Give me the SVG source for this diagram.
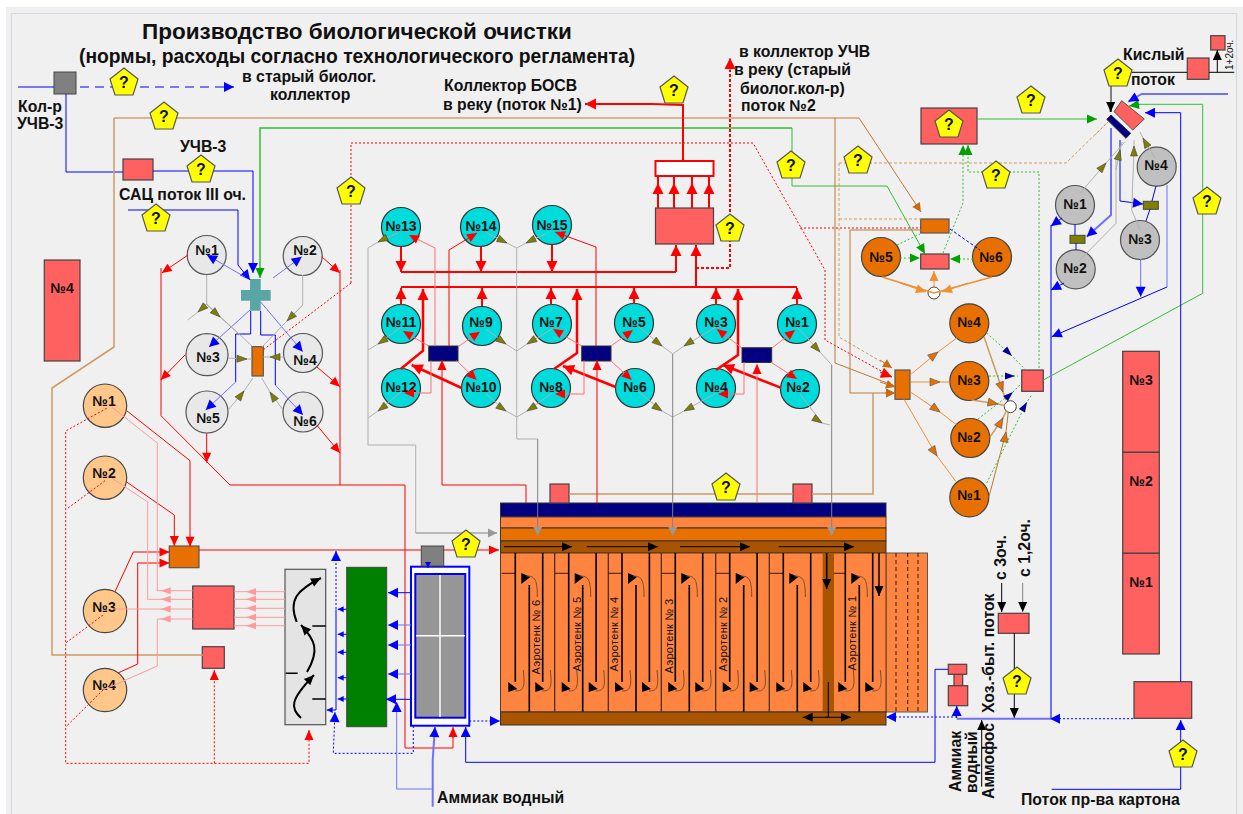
<svg xmlns="http://www.w3.org/2000/svg" width="1243" height="814" viewBox="0 0 1243 814">
<style>
text{font-family:"Liberation Sans",Arial,sans-serif;fill:#111}
.t{font-weight:bold;font-size:15.800px}
.n{font-weight:bold;font-size:14px;text-anchor:middle}
.q{font-weight:bold;font-size:16px;text-anchor:middle}
.tk{font-size:11px;text-anchor:middle;letter-spacing:.3px}
.p{fill:#ff6060;stroke:#444;stroke-width:1.2}
.or{fill:#e87000;stroke:#555;stroke-width:1.2}
.nv{fill:#000080;stroke:#333}
.ol{fill:#808000;stroke:#444}
.cy{fill:#00dcdc;stroke:#333;stroke-width:1.2}
.lg{fill:#e8e8e8;stroke:#555;stroke-width:1.2}
.gc{fill:#c0c0c0;stroke:#555;stroke-width:1.2}
.lo{fill:#ffc78a;stroke:#444;stroke-width:1.2}
.oc{fill:#e87000;stroke:#444;stroke-width:1.2}
.wc{fill:#fff;stroke:#444;stroke-width:1}
.pn{fill:#ffff00;stroke:#555;stroke-width:1.2}
.c *{fill:none}
.red{stroke:#f00}.pk{stroke:#ff9a9a}.lr{stroke:#ff7070}
.blu{stroke:#00f}.lb{stroke:#7070ff}
.grn{stroke:#30c030}.tan{stroke:#d09a62}.brn{stroke:#c07830}
.gry{stroke:#b0b0b0}.dg{stroke:#808080}.blk{stroke:#000}.org{stroke:#f09030}
.w15{stroke-width:1.500}.w2{stroke-width:2}.w3{stroke-width:2.500}
.dot{stroke-dasharray:2 2}.das{stroke-dasharray:9 6}.dsh{stroke-dasharray:3 2}
.er{marker-end:url(#r)}.es{marker-end:url(#rs)}.ep{marker-end:url(#ps)}
.eb{marker-end:url(#b)}.ebs{marker-end:url(#bs)}.eg{marker-end:url(#g)}.eo{marker-end:url(#o)}.ebr{marker-end:url(#br)}
.ek{marker-end:url(#k)}.ey{marker-end:url(#gy)}
.mo{marker-mid:url(#olv)}.mn{marker-mid:url(#nmk)}.mr{marker-mid:url(#r)}.mbr{marker-mid:url(#omk)}
</style>
<defs>
<marker id="r" markerUnits="userSpaceOnUse" orient="auto" overflow="visible" markerWidth="1" markerHeight="1"><path d="M-11,-5.500L0,0L-11,5.500z" fill="#f00"/></marker>
<marker id="rs" markerUnits="userSpaceOnUse" orient="auto" overflow="visible" markerWidth="1" markerHeight="1"><path d="M-10,-4.500L0,0L-10,4.500z" fill="#f00"/></marker>
<marker id="ps" markerUnits="userSpaceOnUse" orient="auto" overflow="visible" markerWidth="1" markerHeight="1"><path d="M-10,-3.500L0,0L-10,3.500z" fill="#ff9a9a"/></marker>
<marker id="b" markerUnits="userSpaceOnUse" orient="auto" overflow="visible" markerWidth="1" markerHeight="1"><path d="M-10,-5L0,0L-10,5z" fill="#00f"/></marker>
<marker id="bs" markerUnits="userSpaceOnUse" orient="auto" overflow="visible" markerWidth="1" markerHeight="1"><path d="M-6,-3L0,0L-6,3z" fill="#00f"/></marker>
<marker id="g" markerUnits="userSpaceOnUse" orient="auto" overflow="visible" markerWidth="1" markerHeight="1"><path d="M-10,-4.500L0,0L-10,4.500z" fill="#00a000"/></marker>
<marker id="o" markerUnits="userSpaceOnUse" orient="auto" overflow="visible" markerWidth="1" markerHeight="1"><path d="M-10,-4.500L0,0L-10,4.500z" fill="#f09030"/></marker>
<marker id="br" markerUnits="userSpaceOnUse" orient="auto" overflow="visible" markerWidth="1" markerHeight="1"><path d="M-9,-4.500L0,0L-9,4.500z" fill="#c86a10"/></marker>
<marker id="k" markerUnits="userSpaceOnUse" orient="auto" overflow="visible" markerWidth="1" markerHeight="1"><path d="M-10,-4.500L0,0L-10,4.500z" fill="#000"/></marker>
<marker id="gy" markerUnits="userSpaceOnUse" orient="auto" overflow="visible" markerWidth="1" markerHeight="1"><path d="M-9,-4.500L0,0L-9,4.500z" fill="#999"/></marker>
<marker id="olv" markerUnits="userSpaceOnUse" orient="auto" overflow="visible" markerWidth="1" markerHeight="1"><path d="M-10,-3.500L0,0L-10,3.500z" fill="#808000" stroke="#444" stroke-width=".6"/></marker>
<marker id="omk" markerUnits="userSpaceOnUse" orient="auto" overflow="visible" markerWidth="1" markerHeight="1"><path d="M-10,-4L0,0L-10,4z" fill="#e87000" stroke="#555" stroke-width=".6"/></marker>
<marker id="nmk" markerUnits="userSpaceOnUse" orient="auto" overflow="visible" markerWidth="1" markerHeight="1"><path d="M-10,-3.500L0,0L-10,3.500z" fill="#000090"/></marker>
<polygon id="pent" class="pn" points="0,-14 14,-3 9,13 -9,13 -14,-3"/>
<g id="tkn">
<path d="M0,553V682M14,585V712M27.400,553V682" stroke="#000" stroke-width="1.600" fill="none"/>
<path d="M-13.700,573.300H0" stroke="#000" stroke-width=".8"/>
<path d="M-7,682V692L2,689zM20,682V692L29,689zM6,573V584L15,577z" fill="#000"/>
<path d="M8,670C10,688 8,691 0,691M35,670C37,688 35,691 27,691M22,597C22,580 20,576 11,576" fill="none" stroke="#74502c"/>
</g>
</defs>
<rect width="1243" height="814" fill="#fff"/>
<rect x="6" y="7" width="1237" height="807" fill="#f0f0f0"/>
<path d="M11.500,814V13.500H1236.500V814" fill="none" stroke="#d8d8e2" stroke-width="1.200"/>

<g id="aerotank">
<rect x="500.500" y="503" width="385.500" height="14" fill="#000080" stroke="#333"/>
<rect x="500.500" y="517" width="385.500" height="11" fill="#ff8440" stroke="#5a3a20"/>
<rect x="500.500" y="528" width="385.500" height="13" fill="#e87000" stroke="#333"/>
<rect x="500.500" y="541" width="385.500" height="12" fill="#a85400" stroke="#333"/>
<rect x="886" y="553" width="41.500" height="159" fill="#ff8440" stroke="#5a5a50"/>
<path d="M896,553V712M907.700,553V712M918,553V712" stroke="#222" stroke-dasharray="4 3"/>
<rect x="500.500" y="553" width="385.500" height="159" fill="#ff8440" stroke="#5a3a20"/>
<use href="#tkn" x="515.300"/><use href="#tkn" x="568.700"/><use href="#tkn" x="622"/><use href="#tkn" x="675.300"/><use href="#tkn" x="729.700"/><use href="#tkn" x="783.300"/><use href="#tkn" x="845.300"/>
<path d="M554.700,553V712M608.300,553V712M661.300,553V712M715.700,553V712M769.300,553V712" stroke="#3a2a1a" stroke-width="1.200"/>
<rect x="822.700" y="553" width="11.300" height="159" fill="#a85400"/>
<rect x="500.500" y="712" width="385.500" height="13" fill="#a85400" stroke="#333"/>
<g class="c">
<path class="blk ek" d="M504,546.700H572"/><path class="blk ek" d="M586.700,546.700H658"/><path class="blk ek" d="M680,546.700H750"/><path class="blk ek" d="M778.700,546.700H854"/>
<path class="blk w15 ek" d="M826.700,553V589"/><path class="blk w15 ek" d="M879,553V596"/>
<path class="blk" d="M828.300,682V717"/>
<path class="blk ek" d="M825,717.300H851"/><path class="blk ek" d="M828,717.300H802.700"/>
</g>
<text class="tk" transform="translate(540,637) rotate(-90)">Аэротенк № 6</text>
<text class="tk" transform="translate(581,634) rotate(-90)">Аэротенк № 5</text>
<text class="tk" transform="translate(618,634) rotate(-90)">Аэротенк № 4</text>
<text class="tk" transform="translate(673,636) rotate(-90)">Аэротенк № 3</text>
<text class="tk" transform="translate(727,634) rotate(-90)">Аэротенк № 2</text>
<text class="tk" transform="translate(856,633) rotate(-90)">Аэротенк № 1</text>
</g>

<g id="cross"><path d="M250,279h10.700v11h10v10.700h-10v10h-10.700v-10h-9v-10.700h9z" fill="#5aa5a5"/></g>
<g id="tank4"><rect class="p" x="44.300" y="260" width="35.700" height="101"/><text class="n" x="62" y="293">№4</text></g>
<g id="kolr"><rect x="54" y="72" width="22" height="22" fill="#808080" stroke="#444"/></g>
<g id="box-uchv"><rect class="p" x="123" y="159" width="30" height="21"/></g>
<g id="sed-sq"><rect class="or" x="252" y="346.700" width="11.300" height="29.300"/></g>
<g id="lg1"><circle class="lg" cx="206.700" cy="255" r="19.500"/><text class="n" x="207" y="255">№1</text></g>
<g id="lg2"><circle class="lg" cx="302.700" cy="256" r="19.500"/><text class="n" x="305" y="255">№2</text></g>
<g id="lg3"><circle class="lg" cx="207" cy="354.700" r="21"/><text class="n" x="208" y="362">№3</text></g>
<g id="lg4"><circle class="lg" cx="303" cy="353" r="19.500"/><text class="n" x="305" y="365">№4</text></g>
<g id="lg5"><circle class="lg" cx="207" cy="412" r="21"/><text class="n" x="208" y="423">№5</text></g>
<g id="lg6"><circle class="lg" cx="303" cy="412" r="20"/><text class="n" x="305" y="426">№6</text></g>

<g id="lo1"><circle class="lo" cx="105" cy="405.700" r="21.700"/><text class="n" x="104" y="406">№1</text></g>
<g id="lo2"><circle class="lo" cx="105" cy="477.700" r="21.700"/><text class="n" x="104" y="478">№2</text></g>
<g id="lo3"><circle class="lo" cx="105" cy="611" r="21.700"/><text class="n" x="104" y="612">№3</text></g>
<g id="lo4"><circle class="lo" cx="105" cy="690" r="21.700"/><text class="n" x="104" y="690">№4</text></g>
<g id="mix"><rect class="or" x="169.300" y="546" width="29.700" height="21.700"/></g>
<g id="bigp"><rect class="p" x="192.700" y="586" width="41.300" height="43"/></g>
<g id="smallp"><rect class="p" x="202.300" y="646.700" width="22" height="21.600"/></g>
<g id="grate"><rect x="285" y="569.300" width="40.700" height="155.400" fill="#e4e4e4" stroke="#555" stroke-width="1.200"/>
<path d="M312.300,626H325.700M285.700,673.300H297.700M312.300,699H325.700" stroke="#000" stroke-width="1.500"/></g>
<g id="green"><rect x="346.700" y="567.300" width="40" height="159.400" fill="#008000" stroke="#444"/></g>
<g id="filter"><rect x="411" y="566.700" width="58.300" height="159" fill="#fff" stroke="#00f" stroke-width="2"/>
<rect x="415.300" y="574" width="50" height="143.700" fill="#969696" stroke="#00f" stroke-width="2"/>
<path d="M440,575V717M416,635.700H465" stroke="#fff" stroke-width="1.500"/></g>
<g id="grayb"><rect x="421.300" y="546" width="22.400" height="20" fill="#808080" stroke="#444"/></g>

<g id="c13"><circle class="cy" cx="401" cy="227" r="19.500"/><text class="n" x="401" y="231">№13</text></g>
<g id="c14"><circle class="cy" cx="480" cy="227" r="19.500"/><text class="n" x="481" y="231">№14</text></g>
<g id="c15"><circle class="cy" cx="552" cy="225" r="19.500"/><text class="n" x="552" y="230">№15</text></g>
<g id="c11"><circle class="cy" cx="401" cy="324" r="19.500"/><text class="n" x="401" y="327">№11</text></g>
<g id="c9"><circle class="cy" cx="482" cy="326" r="19.500"/><text class="n" x="481" y="327">№9</text></g>
<g id="c7"><circle class="cy" cx="552" cy="324" r="19.500"/><text class="n" x="551" y="327">№7</text></g>
<g id="c5"><circle class="cy" cx="634" cy="323" r="19.500"/><text class="n" x="634" y="327">№5</text></g>
<g id="c3"><circle class="cy" cx="716" cy="324" r="19.500"/><text class="n" x="716" y="327">№3</text></g>
<g id="c1"><circle class="cy" cx="797" cy="324" r="19.500"/><text class="n" x="797" y="327">№1</text></g>
<g id="c12"><circle class="cy" cx="401" cy="388" r="19.500"/><text class="n" x="401" y="392">№12</text></g>
<g id="c10"><circle class="cy" cx="481" cy="388" r="19.500"/><text class="n" x="481" y="392">№10</text></g>
<g id="c8"><circle class="cy" cx="551" cy="388" r="19.500"/><text class="n" x="551" y="392">№8</text></g>
<g id="c6"><circle class="cy" cx="635" cy="388" r="19.500"/><text class="n" x="635" y="392">№6</text></g>
<g id="c4"><circle class="cy" cx="716" cy="388" r="19.500"/><text class="n" x="716" y="392">№4</text></g>
<g id="c2"><circle class="cy" cx="800" cy="389" r="19.500"/><text class="n" x="798" y="392">№2</text></g>
<g id="nv1"><rect class="nv" x="428.700" y="346" width="29.300" height="15"/></g>
<g id="nv2"><rect class="nv" x="581.700" y="346" width="29.300" height="15"/></g>
<g id="nv3"><rect class="nv" x="742" y="347.700" width="29.700" height="14.800"/></g>
<g id="bigred"><rect class="p" x="655.500" y="208" width="58" height="36"/></g>
<g id="whitebox"><rect x="655.500" y="161" width="58" height="15" fill="#fff" stroke="#f00" stroke-width="2"/></g>
<g id="tsq1"><rect class="p" x="550" y="484" width="19" height="19"/></g>
<g id="tsq2"><rect class="p" x="793" y="484" width="19" height="19"/></g>

<g id="topbox"><rect class="p" x="921" y="108" width="56" height="36"/></g>
<g id="orb"><rect class="or" x="920.700" y="219" width="28.300" height="14"/></g>
<g id="prb"><rect class="p" x="920.700" y="254" width="28.300" height="15"/></g>
<g id="o5"><circle class="oc" cx="881" cy="257" r="19.500"/><text class="n" x="881" y="262">№5</text></g>
<g id="o6"><circle class="oc" cx="992" cy="257" r="19.500"/><text class="n" x="991" y="262">№6</text></g>
<g id="wc1"><circle class="wc" cx="934" cy="293" r="6"/></g>
<g id="orb2"><rect class="or" x="895" y="370" width="15" height="29.300"/></g>
<g id="o4"><circle class="oc" cx="969.300" cy="323.300" r="19.500"/><text class="n" x="969" y="327">№4</text></g>
<g id="o3"><circle class="oc" cx="969.300" cy="381" r="19.500"/><text class="n" x="969" y="385">№3</text></g>
<g id="o2"><circle class="oc" cx="970.300" cy="438" r="19.500"/><text class="n" x="969" y="442">№2</text></g>
<g id="o1"><circle class="oc" cx="969.300" cy="497.300" r="19.500"/><text class="n" x="969" y="500">№1</text></g>
<g id="wc2"><circle class="wc" cx="1010.300" cy="406.700" r="6"/></g>
<g id="rsq"><rect class="p" x="1021.700" y="370" width="21.600" height="21.300"/></g>
<g id="s3"><rect class="p" x="1122.700" y="351.300" width="36.600" height="101"/><text class="n" x="1141" y="385">№3</text></g>
<g id="s2"><rect class="p" x="1122.700" y="452.300" width="36.600" height="101"/><text class="n" x="1141" y="486">№2</text></g>
<g id="s1"><rect class="p" x="1122.700" y="553.300" width="36.600" height="100.700"/><text class="n" x="1141" y="587">№1</text></g>
<g id="kart"><rect class="p" x="1134" y="681.700" width="57.700" height="36.600"/></g>
<g id="hoz"><rect class="p" x="998.300" y="613.300" width="30.700" height="20"/></g>
<g id="dev"><rect class="p" x="954" y="674" width="8.700" height="12"/><rect class="p" x="948.300" y="664.300" width="18.400" height="10"/><rect class="p" x="948.300" y="685.700" width="19.400" height="20"/></g>
<g id="g1"><circle class="gc" cx="1075" cy="205" r="19.500"/><text class="n" x="1075" y="209">№1</text></g>
<g id="g2"><circle class="gc" cx="1075.700" cy="269.300" r="19.500"/><text class="n" x="1075" y="273">№2</text></g>
<g id="g3"><circle class="gc" cx="1140" cy="240" r="19.500"/><text class="n" x="1140" y="244">№3</text></g>
<g id="g4"><circle class="gc" cx="1156.700" cy="166.700" r="19.500"/><text class="n" x="1156" y="170">№4</text></g>
<g id="ol1"><rect class="ol" x="1070" y="235.300" width="15" height="8"/></g>
<g id="ol2"><rect class="ol" x="1143.300" y="201.300" width="15" height="8"/></g>
<g id="acidbox"><rect class="p" x="1187.300" y="58" width="21.700" height="21.300"/></g>
<g id="acidsm"><rect class="p" x="1210.700" y="35.700" width="14.300" height="14.300"/></g>
<g id="reactor">
<polygon points="1121.700,100.700 1144.300,119 1132.700,130 1114,111.700" fill="#ff6060" stroke="#555"/>
<polygon points="1111,115 1130.700,133.300 1126,138.300 1106.700,119.300" fill="#000080" stroke="#333"/>
</g>

<g id="connectors" class="c">
<path class="blu" d="M18,87H54"/>
<path class="blu das eb" d="M80,87H234"/>
<path class="blu" d="M66,94V172H123"/>
<path class="blu eb" d="M153,171H253V273"/>
<path class="blu eb" d="M128,210H238V265L250,280"/>
<path class="grn w15 eg" d="M792,128H260V278"/>
<path class="grn eg" d="M792,128V186H887L925,254"/>
<path class="tan w15" d="M114,118V347L52,388V655H203"/>
<path class="brn" d="M114,118H859"/>
<path class="brn ebr" d="M859,118L921,212"/>
<path class="red dot" d="M351,283V143H753L825,270V340L892,377"/>
<path class="red dot" d="M351,283L263,350"/>
<path class="red dot" d="M800,228H921"/>
<path class="tan dsh" d="M839,163H1066L1108,122"/>
<path class="tan dsh" d="M839,163V337L892,368"/>
<path class="tan dsh" d="M839,219H921"/>
<path class="brn" d="M835,118V363L895,386"/>
<path class="brn" d="M921,230H850V393"/>
<path class="brn ebr" d="M850,393H895"/>
<path class="tan w15" d="M873,393V494H812"/>
<path class="tan w15" d="M793,494H569"/>

<path class="lb eb" d="M245,277L207,255"/>
<path class="lb eb" d="M273,278L301.700,256.700"/>
<path class="lb eb" d="M250,310L209,347"/>
<path class="lb eb" d="M260.700,302L302.700,351.700"/>
<path class="blu" d="M250.700,311V334H235.700V382"/>
<path class="lb eb" d="M235.700,382L205.700,410"/>
<path class="blu" d="M260.700,311V335H275.300V385"/>
<path class="lb eb" d="M275.300,385L303,415"/>

<path class="gry" d="M206.700,275V304L252,346"/>
<path class="gry mo" d="M206,304L198,312L187.700,320"/>
<path class="gry mo" d="M206,304L220,317L240,335"/>
<path class="gry" d="M302.700,275V305L287,321"/>
<path class="gry mo" d="M302,306L287,321L262,347"/>
<path class="gry mo" d="M228,358L247,359L252,359"/>
<path class="gry mo" d="M284,357L270,357L263.300,357"/>
<path class="gry mo" d="M228,410L244,391L253,378"/>
<path class="gry mo" d="M283,410L270,392L261.700,378"/>

<path class="red es" d="M188,255L161.700,273"/>
<path class="red" d="M161,268V415.700L230,485H405V748H453V736"/>
<path class="red es" d="M453,738V727"/>
<path class="red es" d="M321.700,256.700L340,273"/>
<path class="red" d="M340,270V485"/>
<path class="red es" d="M185,355L160.700,380"/>
<path class="red es" d="M316.700,366.700L340,386.700"/>
<path class="red es" d="M206.700,433V462.700"/>
<path class="red es" d="M316.700,425L340,453"/>

<path class="red es" d="M126.700,410.700L190,460.700V546.700"/>
<path class="red es" d="M126.700,482L174.300,515V546"/>
<path class="red es" d="M115,591.700L133.300,552H169.500"/>
<path class="red es" d="M118,673L137.700,664V563H169.500"/>
<path class="pk" d="M111.700,407L157.300,443V591"/>
<path class="pk" d="M111.700,478L147.700,502V599.300"/>
<path class="pk" d="M103,690L157.300,666V619"/>
<path class="pk ep" d="M192.700,590.700H160.700"/><path class="pk" d="M161,590.700H157.300"/>
<path class="pk ep" d="M192.700,599.300H160.700"/><path class="pk" d="M161,599.300H147.700"/>
<path class="pk ep" d="M192.700,609H160.700"/><path class="pk" d="M161,609H112"/>
<path class="pk ep" d="M192.700,619H160.700"/><path class="pk" d="M161,619H157.300"/>
<path class="pk ep" d="M285,591.700H246"/><path class="pk" d="M246,591.700H234"/>
<path class="pk ep" d="M285,599.300H246"/><path class="pk" d="M246,599.300H234"/>
<path class="pk ep" d="M285,608.300H246"/><path class="pk" d="M246,608.300H234"/>
<path class="pk ep" d="M285,617.300H246"/><path class="pk" d="M246,617.300H234"/>
<path class="pk ep" d="M285,625.700H246"/><path class="pk" d="M246,625.700H234"/>
<path class="red dot" d="M106.700,408.300L65.700,431V763.300H309V738"/>
<path class="red dot" d="M105,480.700L66.700,509"/>
<path class="red dot" d="M103,615L65.700,643"/>
<path class="red dot" d="M103,690L65.700,727"/>
<path class="red dot" d="M214.300,763.300V680"/>
<path class="red es" d="M214.300,680V670"/>
<path class="red es" d="M309,740V730"/>

<path class="red" d="M199,550H421.300"/>
<path class="red es" d="M443.700,550H499"/>
<path class="blu eb" d="M411,592.700H388"/>
<path class="lb eb" d="M411,625H388"/>
<path class="lb eb" d="M411,645H388"/>
<path class="lb eb" d="M411,674H388"/>
<path class="blu eb" d="M411,699.300H386"/>
<path class="blu" d="M336,609.300V710"/>
<path class="blu ebs" d="M346.700,609.300H337.700"/><path class="blu ebs" d="M346.700,634.300H337.700"/><path class="blu ebs" d="M346.700,652.300H337.700"/><path class="blu ebs" d="M346.700,677.700H337.700"/><path class="blu ebs" d="M346.700,699H337.700"/>
<path class="blu ebs" d="M336,710H326.700"/>
<path class="blu dot eb" d="M336,609V551"/>
<path class="blu dot eb" d="M413.300,726V753.300H333.300L335,712"/>
<path class="lb w2 eb" d="M432.700,806.700V760L435,727"/>
<path class="lb eb" d="M432.700,789H396.700V702"/>
<path class="blu eb" d="M935,669.300V762.300H465.700V727"/>
<path class="blu" d="M935,669.300H948"/>
<path class="blu ebs" d="M428,566V568"/>
<path class="blu dot eb" d="M469.300,721H500"/>

<path class="blk w2 ek" d="M296.700,622C288,600 297,590 321,578"/>
<path class="blk w2 ek" d="M307,672C320,650 315,640 301,625"/>
<path class="blk w2 ek" d="M301,718C290,708 290,700 314,675"/>

<path class="red w2" d="M401,272H676"/>
<path class="red w2 er" d="M676,272V245"/>
<path class="red w2" d="M401,287H797"/>
<path class="red w2 er" d="M696,287V245"/>
<path class="red dsh w2" d="M696,268H730V70"/>
<path class="red er" d="M730,70V58"/>
<path class="red w2" d="M683,161V105L652,104"/>
<path class="red w2 er" d="M652,104H585"/>
<path class="red w2 er" d="M401,247V272"/>
<path class="red w2 er" d="M481,247V272"/>
<path class="red w2 er" d="M552,245V272"/>
<path class="red w2 er" d="M401,305V288"/>
<path class="red w2 er" d="M482,306V288"/>
<path class="red w2 er" d="M551,305V288"/>
<path class="red w2 er" d="M634,304V288"/>
<path class="red w2 er" d="M716,305V288"/>
<path class="red w2 er" d="M797,305V288"/>
<path class="red w3 er" d="M400.700,369L423,350.700V289"/>
<path class="red w3 er" d="M554,369L577,353V289"/>
<path class="red w3 er" d="M716,370L738,355V289"/>
<path class="red w3 er" d="M461.700,388L411.700,365"/>
<path class="red w3 er" d="M615.700,387L563,366"/>
<path class="red w3 er" d="M780.700,387.700L723,365"/>
<path class="red w2 mr" d="M658,208V183V176"/>
<path class="red w2 mr" d="M674,208V183V176"/>
<path class="red w2 mr" d="M692,208V183V176"/>
<path class="red w2 mr" d="M709,208V183V176"/>
<path class="lr es" d="M428.700,346L403,331"/><path class="lr es" d="M458,346.700L480,331.700"/><path class="lr es" d="M456.700,360.700L476.700,380"/>
<path class="lr es" d="M431,360.700V393H404"/>
<path class="lr es" d="M581.700,346L553,329"/><path class="lr es" d="M611,346L633,330"/><path class="lr es" d="M610.700,360.700L631.700,380"/>
<path class="lr es" d="M584,360.700V394H555"/>
<path class="lr es" d="M742,348L716.700,329"/><path class="lr es" d="M772,348L795,330"/><path class="lr es" d="M770.700,362L797,379"/>
<path class="lr es" d="M744,362V394H718"/>
<path class="lr es" d="M435,346V248L409,235"/>
<path class="red es" d="M449,346V250L477,233"/>
<path class="red es" d="M596,346V247L555,232"/>
<path class="red es" d="M526,503V485H442V360"/>
<path class="red es" d="M597,503V360"/>
<path class="lr es" d="M757,503V364"/>

<path class="gry mo" d="M398,233L378,242L368,248"/>
<path class="gry" d="M368,248V445H415.700V533"/>
<path class="dg ey" d="M415.700,533H497"/>
<path class="gry mo" d="M487,233L507,243L516.700,248"/>
<path class="gry mo" d="M545,234L526,243L516.700,248"/>
<path class="gry mo" d="M401,327L378,344L368,350"/>
<path class="gry mo" d="M401,392L378,411L368,418"/>
<path class="gry mo" d="M486,329L506,344L516.700,351"/>
<path class="gry mo" d="M552,329L527,344L516.700,351"/>
<path class="gry mo" d="M486,394L506,411L516.700,417"/>
<path class="gry mo" d="M552,393L527,411L516.700,417"/>
<path class="gry mo" d="M639,327L662,346L672.700,354"/>
<path class="gry mo" d="M716,327L684,346L672.700,354"/>
<path class="gry mo" d="M639,392L662,411L672.700,417"/>
<path class="gry mo" d="M716,393L684,411L672.700,417"/>
<path class="gry mo" d="M797,327L820,352L831.700,365"/>
<path class="gry mo" d="M800,394L822,423L830,425"/>
<path class="gry" d="M516.700,248V439H537.700"/>
<path class="dg ey" d="M537.700,439V536"/>
<path class="dg ey" d="M672.700,354V536"/>
<path class="dg ey" d="M831.700,365V536"/>

<path class="org w15" d="M882,277L934,293"/>
<path class="org w15" d="M992,277L934,293"/>
<path class="org eo" d="M900,283L926,292"/>
<path class="org eo" d="M968,283L942,292"/>
<path class="org eo" d="M934,287V271"/>
<path class="grn dot eg" d="M900,258H920"/>
<path class="grn dot eg" d="M973,259H950"/>
<path class="grn dot" d="M897,245L920,234"/>
<path class="blu dsh" d="M950,229L980,250"/>
<path class="grn dot eg" d="M943,253L963,203V145"/>
<path class="grn dot eg" d="M1039,368V172H968V145"/>
<path class="grn eg" d="M977,119H1097"/>

<path class="org mbr" d="M910,375L938,352L956.700,338"/>
<path class="org mbr" d="M910,382L940,382L950,382"/>
<path class="org mbr" d="M910,391.700L940,412L956.700,425"/>
<path class="org mbr" d="M904,399.300L937,456L956,481.700"/>
<path class="tan w15 mbr" d="M984,336.700L1003,392L1006,400"/>
<path class="tan w15 mbr" d="M971.700,400L998,404L1005,405.700"/>
<path class="tan w15 mbr" d="M990,437L1003,418L1006.700,410"/>
<path class="brn mbr" d="M989,496.700L1006,432L1008.300,411.700"/>
<path class="grn dot mn" d="M986.700,333L1012,356L1025,369.300"/>
<path class="grn dot mn" d="M989,376L1015,376L1018,376"/>
<path class="grn dot mn" d="M978,419L1013,392L1021.700,383"/>
<path class="grn dot mn" d="M986.700,483L1027,402L1031.700,395"/>
<path class="grn" d="M1043.300,380L1202.700,293.300V104.300H1135"/>
<path class="grn eg" d="M1140,104.300L1129,106"/>
<path class="brn ebr" d="M880,382L895,387"/>
<path class="brn ebr" d="M885,393H895"/>
<path class="brn ebr" d="M880,360L892,368"/>
<path class="red er" d="M880,372L892,377"/>

<path class="blk" d="M1131.700,72.300H1187"/><path class="blk" d="M1209,72.300H1234.300"/>
<path class="blk ek" d="M1217.300,72.300V50"/>
<path class="dg w2" d="M1111,86V105"/>
<path class="blk w2 ek" d="M1110.700,105V112"/>
<path class="lb w2 eb" d="M1228,94H1141.700L1128.300,101.700"/>
<path class="blu eb" d="M1180.700,681.700V112.700H1145"/>
<path class="lb w2 eb" d="M1111,128V215L1086.700,236.700"/>
<path class="blu eb" d="M1120,140V201L1143,204"/>
<path class="lb w2" d="M1051,718V226L1058,222"/>
<path class="blu eb" d="M1062,218L1051,226"/>
<path class="blu eb" d="M1064,283L1051,290"/>
<path class="lb" d="M1167,185V287"/>
<path class="blu eb" d="M1167,287L1051.700,336.700"/>
<path class="lb eb" d="M1140.700,259V296.700"/>
<path class="blu" d="M1075,224V235M1076,243V250M1156,186L1152,201M1150,209L1146,221"/>
<path class="gry mo" d="M1080,193.300L1106,163L1125,141.700"/>
<path class="gry" d="M1078.300,261.700L1116,223.300V160"/>
<path class="gry mo" d="M1116,170L1120,150L1122,142"/>
<path class="gry" d="M1140,230L1131.700,210L1134,150"/>
<path class="gry mo" d="M1134,155L1134,146L1134,140"/>
<path class="gry mo" d="M1155,158L1143,138L1140,132"/>
<path class="tan dot" d="M1108,122L1095,135"/>
<path class="blk ek" d="M1001.700,583V612"/>
<path class="dg ek" d="M1022.700,583V612"/>
<path class="blk" d="M1014.300,633V670"/>
<path class="blk ek" d="M1014.300,690V718"/>
<path class="blk ek" d="M981.700,786.700V720"/>
<path class="blu dot eb" d="M957,717H886"/>
<path class="lb w2" d="M956.700,718.700H1051"/>
<path class="blu dot eb" d="M1133,718.700H1050"/>
<path class="blu eb" d="M956.700,718V706"/>
<path class="blu eb" d="M1051.700,789.300H1180.700V720"/>
</g>

<g id="labels">
<text x="142" y="39" font-weight="bold" font-size="22.500px">Производство биологической очистки</text>
<text x="79" y="63" font-weight="bold" font-size="19.300px">(нормы, расходы согласно технологического регламента)</text>
<text class="t" x="242" y="82">в старый биолог.</text>
<text class="t" x="270" y="100">коллектор</text>
<text class="t" x="18" y="112">Кол-р</text>
<text class="t" x="17" y="129">УЧВ-3</text>
<text class="t" x="180" y="152">УЧВ-3</text>
<text class="t" x="119" y="200">САЦ поток III оч.</text>
<text class="t" x="444" y="91">Коллектор БОСВ</text>
<text class="t" x="443" y="110">в реку (поток №1)</text>
<text class="t" x="739" y="57">в коллектор УЧВ</text>
<text class="t" x="734" y="75">в реку (старый</text>
<text class="t" x="740" y="94">биолог.кол-р)</text>
<text class="t" x="741" y="111">поток №2</text>
<text class="t" x="1123" y="60">Кислый</text>
<text class="t" x="1131" y="85">поток</text>
<text transform="translate(1233,70) rotate(-90)" font-size="10px">1+2оч.</text>
<text class="t" x="437" y="803">Аммиак водный</text>
<text class="t" x="1021" y="805">Поток пр-ва картона</text>
<text class="t" transform="translate(994,713) rotate(-90)">Хоз.-быт. поток</text>
<text class="t" transform="translate(1006,580) rotate(-90)">с 3оч.</text>
<text class="t" transform="translate(1030,577) rotate(-90)">с 1,2оч.</text>
<text class="t" transform="translate(961,792) rotate(-90)">Аммиак</text>
<text class="t" transform="translate(977,793) rotate(-90)">водный</text>
<text class="t" transform="translate(994,799) rotate(-90)">Аммофос</text>
</g>

<g id="pentagons">
<g id="q1"><use href="#pent" x="124" y="82"/><text class="q" x="124" y="88">?</text></g>
<g id="q2"><use href="#pent" x="164" y="116"/><text class="q" x="164" y="122">?</text></g>
<g id="q3"><use href="#pent" x="201" y="169"/><text class="q" x="201" y="175">?</text></g>
<g id="q4"><use href="#pent" x="156" y="218"/><text class="q" x="156" y="224">?</text></g>
<g id="q5"><use href="#pent" x="351" y="191"/><text class="q" x="351" y="197">?</text></g>
<g id="q6"><use href="#pent" x="674" y="90"/><text class="q" x="674" y="96">?</text></g>
<g id="q7"><use href="#pent" x="730" y="228"/><text class="q" x="730" y="234">?</text></g>
<g id="q8"><use href="#pent" x="791" y="165"/><text class="q" x="791" y="171">?</text></g>
<g id="q9"><use href="#pent" x="858" y="160"/><text class="q" x="858" y="166">?</text></g>
<g id="q10"><use href="#pent" x="949" y="124"/><text class="q" x="949" y="130">?</text></g>
<g id="q11"><use href="#pent" x="1031" y="100"/><text class="q" x="1031" y="106">?</text></g>
<g id="q12"><use href="#pent" x="996" y="175"/><text class="q" x="996" y="181">?</text></g>
<g id="q13"><use href="#pent" x="1118" y="73"/><text class="q" x="1118" y="79">?</text></g>
<g id="q14"><use href="#pent" x="1207" y="201"/><text class="q" x="1207" y="207">?</text></g>
<g id="q15"><use href="#pent" x="726" y="487"/><text class="q" x="726" y="493">?</text></g>
<g id="q16"><use href="#pent" x="466" y="544"/><text class="q" x="466" y="550">?</text></g>
<g id="q17"><use href="#pent" x="1017" y="681"/><text class="q" x="1017" y="687">?</text></g>
<g id="q18"><use href="#pent" x="1183" y="754"/><text class="q" x="1183" y="760">?</text></g>
</g>
</svg>
